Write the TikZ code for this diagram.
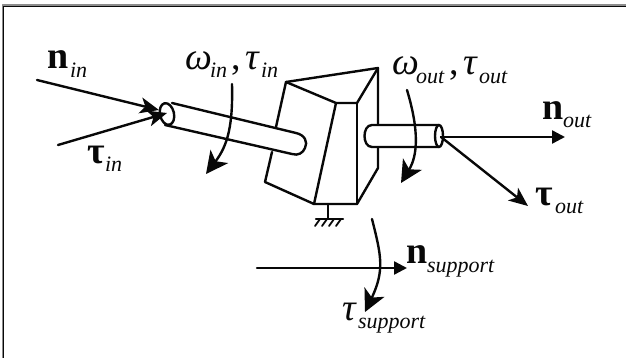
\documentclass[tikz,border=0pt]{standalone}
\usepackage{fontspec}
\setmainfont{Liberation Serif}
\usetikzlibrary{arrows.meta,calc}
\definecolor{DriveInk}{gray}{0.03}
\definecolor{DriveFrame}{gray}{0.55}
\newcommand{\bigsym}[1]{{\fontsize{38}{38}\selectfont #1}}
\newcommand{\smallsub}[1]{{\fontsize{22}{22}\selectfont\itshape #1}}
\tikzset{
    drive/diagram/.style={
        x=1pt, y=-1pt,
        draw=DriveInk,
        text=DriveInk,
        line width=2.4pt,
        line cap=round,
        line join=round
    },
    drive/frame/.style={draw=DriveFrame, line width=1.2pt, line cap=butt},
    drive/edge/.style={draw=DriveInk, line width=1.2pt, line cap=butt},
    drive/body/.style={draw=DriveInk, line width=2.4pt},
    drive/load/.style={
        draw=DriveInk, line width=2.4pt,
        -{Triangle[length=13pt, width=13pt]}
    },
    drive/thrust/.style={
        draw=DriveInk, line width=2.4pt,
        -{Stealth[length=19pt, width=16pt, inset=5pt]}
    },
    drive/turn/.style={
        draw=DriveInk, line width=2.4pt,
        -{Stealth[length=22pt, width=22pt, inset=6pt]}
    },
    drive/label/.style={inner sep=0pt, outer sep=0pt, anchor=base west}
}
\begin{document}
\begin{tikzpicture}[drive/diagram]
    \useasboundingbox (0,0) rectangle (626,358);
    \draw[drive/frame] (2.4,358) -- (2.4,5) -- (626,5);
    \draw[drive/edge] (3.6,358) -- (3.6,6.2) -- (626,6.2);
    % input shaft
    \draw[drive/body] (172,103) -- (296,133)
        .. controls (305,135) and (308,142) .. (305,148)
        .. controls (303,153) and (298,156) .. (292,154) -- (165,125);
    \draw[drive/body, rotate around={13:(167,114)}] (167,114) ellipse (7 and 11);
    % housing, the shaft hides part of the left edge
    \draw[drive/body] (276,127) -- (286,82) -- (378,68) -- (378,168) -- (357,204)
        -- (314,204) -- (265,182) -- (272,152);
    \draw[drive/body] (286,82) -- (336,103) -- (357,103) -- (378,68);
    \draw[drive/body] (336,103) -- (314,204);
    \draw[drive/body] (357,103) -- (357,204);
    % ground
    \draw[drive/body] (328,204) -- (328,218);
    \draw[drive/body] (316,219) -- (343,219);
    \foreach \hx in {320,327,334,341}
        \draw[drive/body, line width=1.8pt] (\hx,219) -- ++(-5,7);
    % output shaft
    \draw[drive/body, fill=white] (439,125) -- (372,125)
        .. controls (362,125) and (362,147) .. (372,147) -- (439,147);
    \draw[drive/body] (439,136) ellipse (4 and 11);
    % named ends of the arrows
    \coordinate (nInTail) at (37,80);
    \coordinate (nInTip) at (159,110);
    \coordinate (tauInTail) at (58,145);
    \coordinate (tauInTip) at (167,113);
    \coordinate (outHub) at (441,137);
    \coordinate (nOutTip) at (565,137);
    \coordinate (tauOutTip) at (528,206);
    \coordinate (nSupTail) at (257,268);
    \coordinate (nSupTip) at (407,268);
    \draw[drive/thrust] (nInTail) -- (nInTip);
    \draw[drive/thrust] (tauInTail) -- (tauInTip);
    \draw[drive/load] (outHub) -- (nOutTip);
    \draw[drive/thrust] (outHub) -- (tauOutTip);
    \draw[drive/load] (nSupTail) -- (nSupTip);
    \draw[drive/turn] (232,84) .. controls (233,125) and (228,145) .. (206,174);
    \draw[drive/turn] (407,90) .. controls (419,130) and (418,155) .. (401,183);
    \draw[drive/turn] (372,219) .. controls (381,255) and (385,270) .. (365,312);
    % labels
    \node[drive/label] (nInLabel) at (47,69) {\bigsym{\textbf{n}}};
    \node[drive/label] (nInSub) at (70,78) {\smallsub{in}};
    \node[drive/label] (tauInLabel) at (87,164) {\bigsym{\textbf{τ}}};
    \node[drive/label] (tauInSub) at (105,172) {\smallsub{in}};
    \node[drive/label] (omegaIn) at (185,70) {\bigsym{\textit{ω}}};
    \node[drive/label] (omegaInSub) at (210,78) {\smallsub{in}};
    \node[drive/label] (commaIn) at (231,70) {\bigsym{,}};
    \node[drive/label] (tauTurnIn) at (245,70) {\bigsym{\textit{τ}}};
    \node[drive/label] (tauTurnInSub) at (261,78) {\smallsub{in}};
    \node[drive/label] (omegaOut) at (392,75) {\bigsym{\textit{ω}}};
    \node[drive/label] (omegaOutSub) at (416,84) {\smallsub{out}};
    \node[drive/label] (commaOut) at (449,75) {\bigsym{,}};
    \node[drive/label] (tauTurnOut) at (463,75) {\bigsym{\textit{τ}}};
    \node[drive/label] (tauTurnOutSub) at (479,84) {\smallsub{out}};
    \node[drive/label] (nOutLabel) at (542,120) {\bigsym{\textbf{n}}};
    \node[drive/label] (nOutSub) at (563,128) {\smallsub{out}};
    \node[drive/label] (tauOutLabel) at (535,205) {\bigsym{\textbf{τ}}};
    \node[drive/label] (tauOutSub) at (555,214) {\smallsub{out}};
    \node[drive/label] (nSupLabel) at (406,263) {\bigsym{\textbf{n}}};
    \node[drive/label] (nSupSub) at (427,272) {\smallsub{support}};
    \node[drive/label] (tauSupLabel) at (342,320) {\bigsym{\textit{τ}}};
    \node[drive/label] (tauSupSub) at (358,328) {\smallsub{support}};
\end{tikzpicture}
\end{document}
